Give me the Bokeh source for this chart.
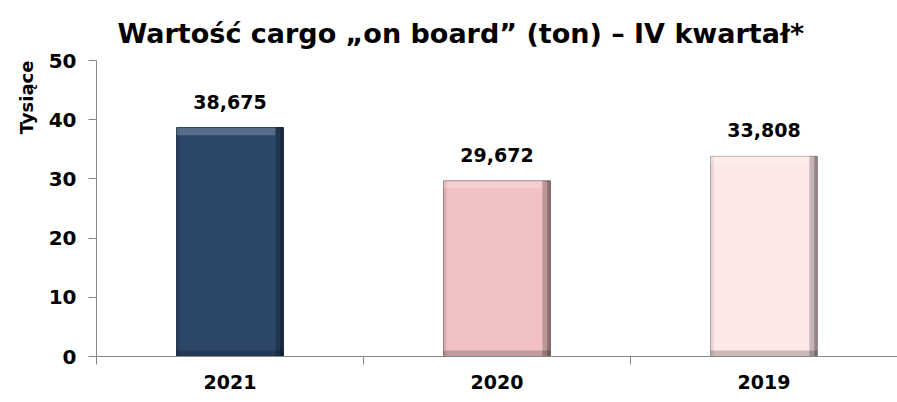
import math
from bokeh.plotting import figure
from bokeh.models import FixedTicker, Range1d, ColumnDataSource, Title
from bokeh.core.properties import value
from bokeh.embed import file_html
from bokeh.resources import INLINE

title_text = "Wartość cargo „on board” (ton) – IV kwartał*"
y_label = "Tysiące"
years = ["2021", "2020", "2019"]
values = [38.675, 29.672, 33.808]
value_labels = ["38,675", "29,672", "33,808"]
colors = ["#2B4669", "#F2C1C3", "#FDE8E8"]
edge_colors = ["#1A2C44", "#9E7B7D", "#B8A3A3"]
y_ticks = [0, 10, 20, 30, 40, 50]

FONT = "DejaVu Sans"
BAR_W = 0.4
centers = [i + 0.5 for i in range(len(years))]

p = figure(width=897, height=398, output_backend="svg", toolbar_location=None,
           x_range=Range1d(0, len(years)), y_range=Range1d(0, 50),
           min_border_left=96, min_border_right=0, min_border_top=60, min_border_bottom=42)
p.outline_line_color = None
p.xgrid.visible = False
p.ygrid.visible = False

p.title.text = title_text
p.title.text_font = FONT
p.title.text_font_style = "bold"
p.title.text_font_size = "27px"
p.title.text_color = "black"
p.title.align = "left"
p.title.offset = 21
p.title.standoff = 23

src = ColumnDataSource(dict(x=centers, top=values, lab=value_labels, color=colors, edge=edge_colors))
p.vbar(x="x", top="top", width=BAR_W, fill_color="color", line_color="edge", line_width=1, source=src)

# bevel shading derived from the bars
lefts = [c - BAR_W / 2 for c in centers]
rights = [c + BAR_W / 2 for c in centers]
zeros = [0] * len(values)
p.quad(left=[r - 0.03 for r in rights], right=rights, bottom=zeros, top=values,
       fill_color="black", fill_alpha=0.22, line_color=None)
p.quad(left=[r - 0.012 for r in rights], right=rights, bottom=zeros, top=values,
       fill_color="black", fill_alpha=0.25, line_color=None)
p.quad(left=lefts, right=[l + 0.012 for l in lefts], bottom=zeros, top=values,
       fill_color="black", fill_alpha=0.08, line_color=None)
p.quad(left=lefts, right=rights, bottom=zeros, top=[1.0] * len(values),
       fill_color="black", fill_alpha=0.2, line_color=None)
p.quad(left=lefts, right=[r - 0.03 for r in rights], bottom=[v - 1.3 for v in values], top=values,
       fill_color="white", fill_alpha=0.22, line_color=None)

p.text(x="x", y="top", text="lab", source=src, y_offset=-26, text_align="center",
       text_baseline="alphabetic", text_font=value(FONT), text_font_style="bold",
       text_font_size="19px", text_color="black")

# axes
xa = p.xaxis[0]
xa.ticker = FixedTicker(ticks=centers, minor_ticks=list(range(len(years) + 1)))
xa.major_label_overrides = {c: y for c, y in zip(centers, years)}
xa.major_tick_out = 0
xa.major_tick_in = 0
xa.minor_tick_out = 8
xa.minor_tick_in = 0
xa.major_label_standoff = 10
xa.axis_line_color = "#868686"
xa.minor_tick_line_color = "#868686"
xa.major_label_text_font = FONT
xa.major_label_text_font_style = "bold"
xa.major_label_text_font_size = "19px"
xa.major_label_text_color = "black"

ya = p.yaxis[0]
ya.ticker = FixedTicker(ticks=y_ticks)
ya.major_tick_out = 8
ya.major_tick_in = 0
ya.minor_tick_line_color = None
ya.major_label_standoff = 12
ya.axis_line_color = "#868686"
ya.major_tick_line_color = "#868686"
ya.major_label_text_font = FONT
ya.major_label_text_font_style = "bold"
ya.major_label_text_font_size = "20px"
ya.major_label_text_color = "black"

p.add_layout(Title(text=y_label, align="right", text_font=FONT, text_font_style="bold",
                   text_font_size="18px", text_color="black", standoff=17), "left")

open("out.html", "w").write(file_html(p, INLINE))
